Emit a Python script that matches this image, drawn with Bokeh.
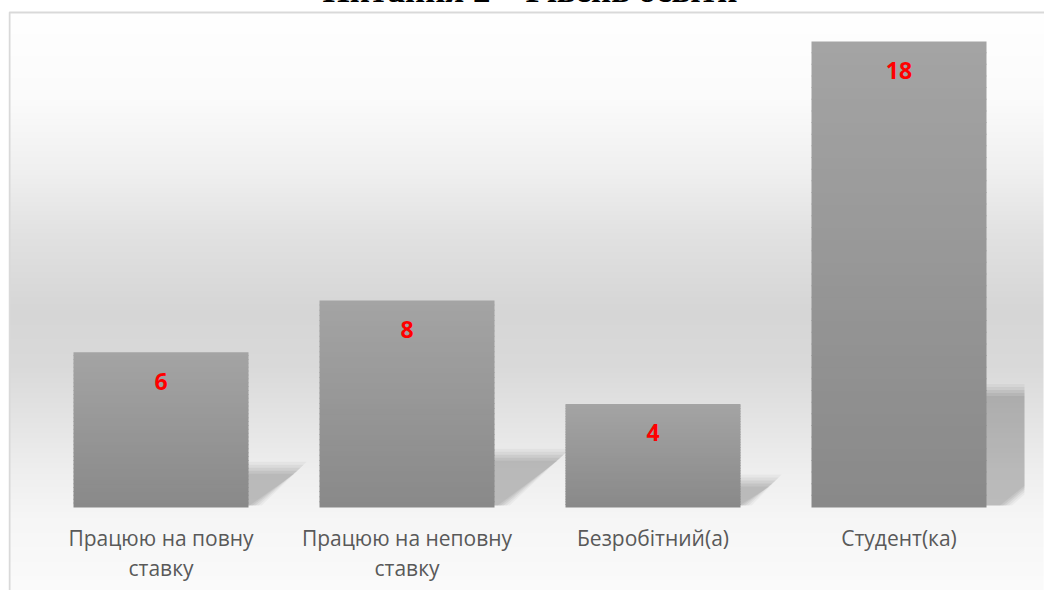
import numpy as np
from bokeh.plotting import figure
from bokeh.models import Range1d
from bokeh.core.properties import value
from bokeh.embed import file_html
from bokeh.resources import INLINE

# ---------------- data ----------------
title = "Питання 2 – Рівень освіти"
categories = ["Працюю на повну\nставку", "Працюю на неповну\nставку",
              "Безробітний(а)", "Студент(ка)"]
counts = [6, 8, 4, 18]

# ---------------- layout (canvas pixels) ----------------
W, H = 1036, 620          # canvas; page y = canvas y - 30
X0, DX = 152.5, 246.0     # canvas x of first category centre, spacing
BASE, DY = 537.0, 466.0 / 18.0   # canvas y of zero line, px per unit
BAR_W = 175.0 / DX


def px2x(cx):
    return (cx - X0) / DX


def py2y(cy):
    return (BASE - cy) / DY


p = figure(width=W, height=H,
           x_range=Range1d(px2x(0), px2x(W)),
           y_range=Range1d(py2y(H), py2y(0)),
           output_backend="svg", toolbar_location=None,
           x_axis_type=None, y_axis_type=None, min_border=0)
p.grid.visible = False
p.outline_line_color = None
p.background_fill_color = "white"
p.border_fill_color = "white"
p.styles = {"margin-top": "-30px", "margin-left": "8px"}

# ---------------- background gradient ----------------
top_c, bot_c = 42, H
n = bot_c - top_c
page_y = (bot_c - 30) - np.arange(n) - 0.5
stops_py = [12, 100, 170, 233, 310, 367, 417, 467, 517, 590]
stops_v = [255, 251, 240, 226, 214, 218, 228, 238, 246, 251]
g = np.interp(page_y, stops_py, stops_v).astype(np.uint8)
img = np.zeros((n, 2), dtype=np.uint32)
view = img.view(dtype=np.uint8).reshape((n, 2, 4))
view[:, :, 0] = g[:, None]
view[:, :, 1] = g[:, None]
view[:, :, 2] = g[:, None]
view[:, :, 3] = 255
p.image_rgba(image=[img], x=px2x(1), y=py2y(bot_c),
             dw=px2x(1035) - px2x(1), dh=py2y(top_c) - py2y(bot_c))
p.quad(left=[px2x(1)], right=[px2x(1045)], top=[py2y(top_c)],
       bottom=[py2y(H + 10)], fill_color=None, line_color="#d9d9d9",
       line_width=2)

# ---------------- shadows ----------------
CLIP = px2x(1016)


def clip_poly(xs, ys, xmax):
    out_x, out_y = [], []
    m = len(xs)
    for k in range(m):
        x1, y1 = xs[k], ys[k]
        x2, y2 = xs[(k + 1) % m], ys[(k + 1) % m]
        in1, in2 = x1 <= xmax, x2 <= xmax
        if in1:
            out_x.append(x1); out_y.append(y1)
        if in1 != in2:
            t = (xmax - x1) / (x2 - x1)
            out_x.append(xmax); out_y.append(y1 + t * (y2 - y1))
    return out_x, out_y


layers = [(7.0, 0.035), (4.0, 0.045), (1.0, 0.055), (-2.0, 0.055), (-5.0, 0.05)]
for e, a in layers:
    sxs, sys_ = [], []
    for i, v in enumerate(counts):
        h = v * DY
        xr = X0 + DX * i + 175.0 / 2
        pts_x = [xr - 5, xr - 5, xr + 0.33 * h + e, xr + 0.04 * h + e]
        pts_y = [BASE - 2, BASE - 0.25 * h - e, BASE - 0.25 * h - e, BASE - 2]
        dx = [px2x(q) for q in pts_x]
        dy = [py2y(q) for q in pts_y]
        cx, cy = clip_poly(dx, dy, CLIP)
        sxs.append(cx); sys_.append(cy)
    p.patches(xs=sxs, ys=sys_, fill_color="black", fill_alpha=a,
              line_color=None)

# ---------------- bars (vertical gradient) ----------------
NS = 40
OVL = 1.0 / DY   # 1px overlap between gradient slices (hides seams)
c_top, c_bot = np.array([164, 164, 164]), np.array([137, 137, 137])
xs_all, bot_all, top_all, col_all = [], [], [], []
for i, v in enumerate(counts):
    for j in range(NS):
        f0, f1 = j / NS, (j + 1) / NS
        c = c_bot + (c_top - c_bot) * (f0 + f1) / 2
        xs_all.append(i)
        bot_all.append(v * f0)
        top_all.append(v * f1 + (OVL if j < NS - 1 else 0.0))
        col_all.append("#%02x%02x%02x" % tuple(int(round(t)) for t in c))
p.vbar(x=xs_all, bottom=bot_all, top=top_all, width=BAR_W,
       fill_color=col_all, line_color=None)

# ---------------- value labels ----------------
p.text(x=list(range(len(counts))), y=counts, text=[str(v) for v in counts],
       text_font=value("Open Sans"), text_font_style="bold",
       text_font_size="23px", text_color="#ff0000", text_align="center",
       text_baseline="alphabetic", y_offset=29)

# ---------------- category labels ----------------
line1 = [c.split("\n")[0] for c in categories]
line2 = [c.split("\n")[1] if "\n" in c else "" for c in categories]
idx = list(range(len(categories)))
p.text(x=idx, y=[0] * len(idx), text=line1, text_font=value("Open Sans"),
       text_font_size="21px", text_color="#595959", text_align="center",
       text_baseline="alphabetic", y_offset=30)
p.text(x=idx, y=[0] * len(idx), text=line2, text_font=value("Open Sans"),
       text_font_size="21px", text_color="#595959", text_align="center",
       text_baseline="alphabetic", y_offset=60)

# ---------------- title (cut off at top, as in reference) ----------------
p.text(x=[1.5], y=[py2y(20)], text=[title],
       text_font=value("Liberation Serif"), text_font_style="bold",
       text_font_size="35px", text_color="black", text_align="center",
       text_baseline="alphabetic")

open("out.html", "w").write(file_html(p, INLINE))
